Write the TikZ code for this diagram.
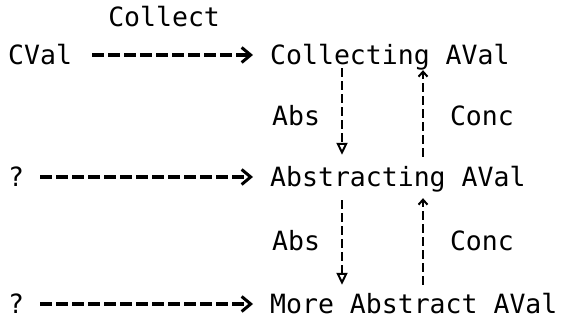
\documentclass[tikz,border=0pt]{standalone}
\usepackage{fontspec}
\setmonofont{DejaVu Sans Mono}
\usetikzlibrary{arrows.meta}

\tikzset{
    tt/.style={inner sep=0pt, text height=20pt, text depth=0pt,
        font=\ttfamily\fontsize{26.5}{30}\selectfont},
    val/.style={tt, anchor=base west},
    typedarrow/.style={line width=3.5pt, dash pattern=on 12pt off 4pt,
        -{Straight Barb[length=9pt, width=15pt, line width=3pt]}},
    absarrow/.style={line width=2pt, dash pattern=on 9pt off 4pt,
        -{Triangle[open, length=12pt, width=11pt, line width=2pt]}},
    concarrow/.style={line width=2pt, dash pattern=on 9pt off 4pt,
        -{Straight Barb[length=5pt, width=9pt, line width=2pt]}}
}

\begin{document}
\begin{tikzpicture}[x=1pt, y=1pt]

    \useasboundingbox (0,0) rectangle (561,320);

    % Values
    \node[val] (cval)  at (8,255)   {CVal};
    \node[val] (coll)  at (270,255) {Collecting AVal};
    \node[val] (q1)    at (8,133)   {?};
    \node[val] (abstr) at (270,133) {Abstracting AVal};
    \node[val] (q2)    at (8,6)     {?};
    \node[val] (more)  at (270,6)   {More Abstract AVal};

    % Columns of the vertical maps
    \coordinate (absx)  at (342,0);
    \coordinate (concx) at (423,0);

    % Horizontal maps
    \draw[typedarrow, shorten <=20pt, shorten >=17pt] (cval) --
        node[tt, midway, above=27pt, xshift=-7pt] (collect) {Collect} (coll);
    \draw[typedarrow, shorten <=16pt, shorten >=17pt] (q1) -- (abstr);
    \draw[typedarrow, shorten <=16pt, shorten >=17pt] (q2) -- (more);

    % Abs and Conc between the rows
    \draw[absarrow, shorten <=3pt, shorten >=12pt] (coll.south -| absx) --
        node[tt, midway, left=21pt] (abs1) {Abs} (abstr.north -| absx);
    \draw[concarrow, shorten <=10pt, shorten >=5pt] (abstr.north -| concx) --
        node[tt, midway, right=26pt] (conc1) {Conc} (coll.south -| concx);
    \draw[absarrow, shorten <=13pt, shorten >=9pt] (abstr.south -| absx) --
        node[tt, midway, left=21pt] (abs2) {Abs} (more.north -| absx);
    \draw[concarrow, shorten <=9pt, shorten >=11pt] (more.north -| concx) --
        node[tt, midway, right=26pt] (conc2) {Conc} (abstr.south -| concx);

\end{tikzpicture}
\end{document}
